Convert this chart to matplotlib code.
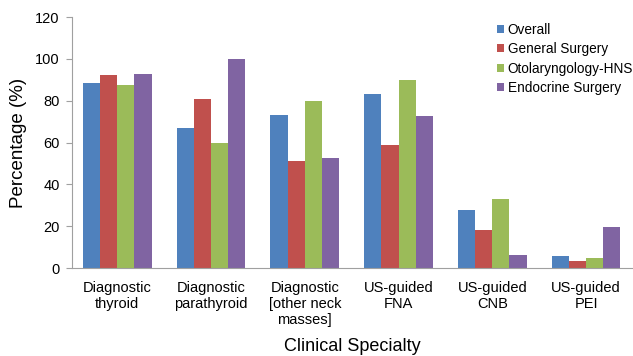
import matplotlib
matplotlib.use("Agg")
import matplotlib.pyplot as plt
import numpy as np

plt.rcParams["font.family"] = ["Liberation Sans", "DejaVu Sans"]

categories = [
    "Diagnostic\nthyroid",
    "Diagnostic\nparathyroid",
    "Diagnostic\n[other neck\nmasses]",
    "US-guided\nFNA",
    "US-guided\nCNB",
    "US-guided\nPEI",
]
series_names = ["Overall", "General Surgery", "Otolaryngology-HNS", "Endocrine Surgery"]
overall = [88.5, 67, 73, 83.3, 27.9, 5.7]
general_surgery = [92.2, 81, 51.3, 58.9, 18.1, 3.2]
otolaryngology = [87.5, 60, 80.1, 90.1, 33, 4.6]
endocrine = [92.9, 100, 52.7, 72.7, 6.2, 19.4]
colors = ["#4F81BD", "#C0504D", "#9BBB59", "#8064A2"]

series = [overall, general_surgery, otolaryngology, endocrine]

fig = plt.figure(figsize=(6.33, 3.56), dpi=100)
ax = fig.add_axes([0.114, 0.247, 0.886, 0.705])

x = np.arange(len(categories))
w = 0.183
for i, (vals, name, c) in enumerate(zip(series, series_names, colors)):
    ax.bar(x + (i - 1.5) * w, vals, width=w, color=c, label=name)

ax.set_xlim(-0.48, 5.5)
ax.set_ylim(0, 120)
ax.set_yticks(range(0, 121, 20))
ax.set_xticks(x)
ax.set_xticklabels(categories, fontsize=10.5, linespacing=1.18)
ax.tick_params(axis="y", labelsize=10.5, length=4, color="#A0A0A0", pad=5)
ax.tick_params(axis="x", length=0, pad=9)

for s in ["top", "right"]:
    ax.spines[s].set_visible(False)
for s in ["left", "bottom"]:
    ax.spines[s].set_color("#A0A0A0")

ax.set_ylabel("Percentage (%)", fontsize=13.5, labelpad=6)
ax.set_xlabel("Clinical Specialty", fontsize=13, labelpad=8)

ax.legend(loc="upper right", bbox_to_anchor=(1.015, 1.01), frameon=False,
          fontsize=9.8, handlelength=0.5, handleheight=0.5, handletextpad=0.3,
          labelspacing=0.4, borderaxespad=0.2)

fig.savefig("out.png", dpi=100)
